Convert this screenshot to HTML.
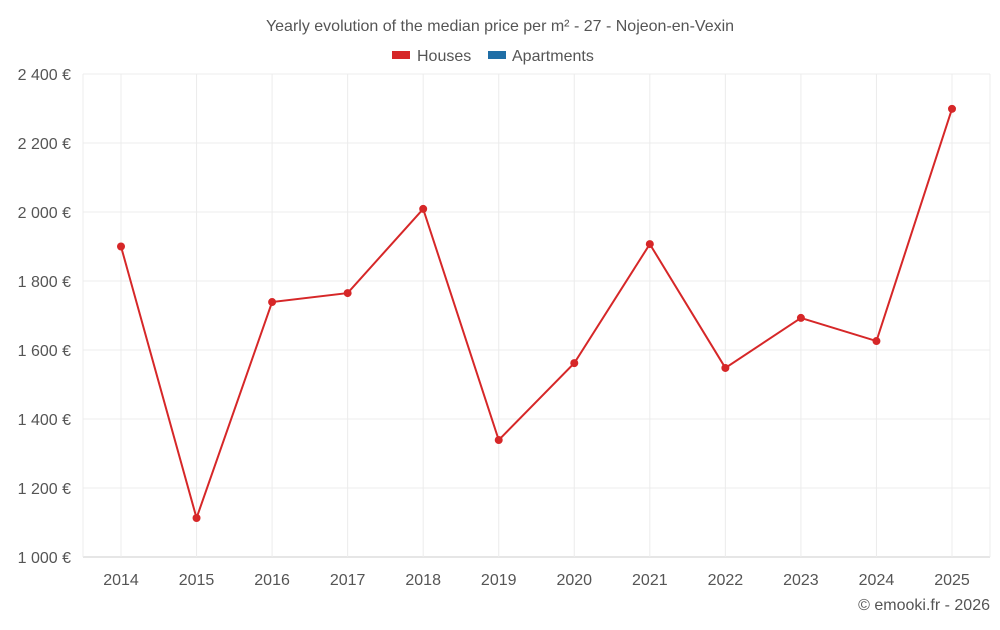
<!DOCTYPE html>
<html><head><meta charset="utf-8">
<style>
body{margin:0;background:#fff;font-family:"Liberation Sans",sans-serif;}
svg text{font-family:"Liberation Sans",sans-serif;}
</style></head>
<body>
<svg width="1000" height="625" id="chart">
<text x="500" y="31" text-anchor="middle" font-size="16" fill="#555">Yearly evolution of the median price per m² - 27 - Nojeon-en-Vexin</text>
<g>
<g><rect x="392" y="51" width="18" height="8" fill="#d62728"/><text x="417" y="61" font-size="16" fill="#555">Houses</text></g>
<g><rect x="488" y="51" width="18" height="8" fill="#1f6ea6"/><text x="512" y="61" font-size="16" fill="#555">Apartments</text></g>
</g>
<g id="grid"></g><g id="axes"></g><g id="series"></g>
<text x="990" y="610" text-anchor="end" font-size="16" fill="#555">© emooki.fr - 2026</text>
</svg>
<script>
const years=["2014","2015","2016","2017","2018","2019","2020","2021","2022","2023","2024","2025"];
const houses=[1900,1113,1739,1765,2009,1339,1562,1907,1548,1693,1626,2299];
const yTicks=[1000,1200,1400,1600,1800,2000,2200,2400];
const yTickLabels=["1 000 €","1 200 €","1 400 €","1 600 €","1 800 €","2 000 €","2 200 €","2 400 €"];
const NS="http://www.w3.org/2000/svg";
const L=83,R=990,T=74,B=557,ymin=1000,ymax=2400;
const yS=v=>B-(v-ymin)/(ymax-ymin)*(B-T);
const x0=121,x1=952;
const xS=i=>x0+i*(x1-x0)/(years.length-1);
function mk(t,a,p){const e=document.createElementNS(NS,t);for(const k in a)e.setAttribute(k,a[k]);p.appendChild(e);return e;}
const grid=document.getElementById('grid'),axes=document.getElementById('axes'),ser=document.getElementById('series');
yTicks.forEach((v,i)=>{
 const ln=mk('line',{x1:L,x2:R,y1:yS(v),y2:yS(v),stroke:i==0?'#ccc':'#ececec','stroke-width':1},grid);
 
 
 const t=mk('text',{x:71,y:yS(v)+6,'text-anchor':'end','font-size':16,fill:'#555'},axes);
 t.textContent=yTickLabels[i];
 
 
});
[L,R].forEach(x=>{
 const g=mk('line',{x1:x,x2:x,y1:T,y2:B,stroke:'#ececec','stroke-width':1},grid);
 
 
});
years.forEach((y,i)=>{
 const g=mk('line',{x1:xS(i),x2:xS(i),y1:T,y2:B,stroke:'#ececec','stroke-width':1},grid);
 
 
 const t=mk('text',{x:xS(i),y:585,'text-anchor':'middle','font-size':16,fill:'#555'},axes);
 t.textContent=y;
 
 
});
const pl=mk('polyline',{points:houses.map((v,i)=>xS(i)+','+yS(v)).join(' '),fill:'none',stroke:'#d62728','stroke-width':2},ser);


houses.forEach((v,i)=>{
 const c=mk('circle',{cx:xS(i),cy:yS(v),r:4,fill:'#d62728'},ser);
 
 
});
</script>
</body></html>
